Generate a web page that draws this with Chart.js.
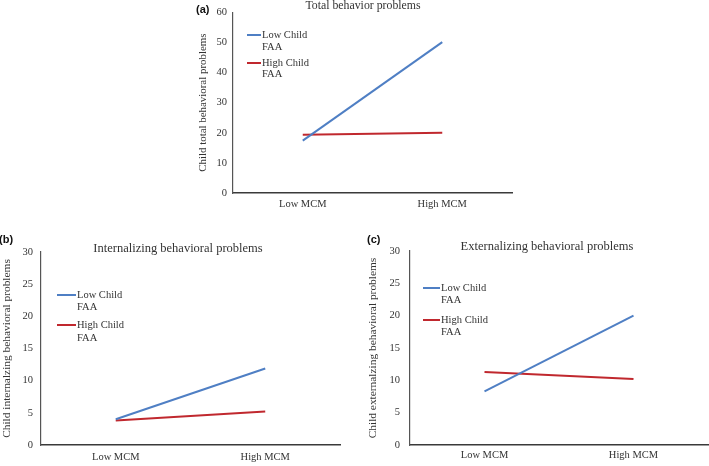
<!DOCTYPE html>
<html>
<head>
<meta charset="utf-8">
<script src="https://cdn.jsdelivr.net/npm/chart.js@4.4.1/dist/chart.umd.min.js"></script>
<style>
  html, body { margin: 0; padding: 0; background: #fff; }
  body { width: 709px; height: 466px; position: relative; overflow: hidden; }
  .panel { position: absolute; }
</style>
</head>
<body>
<div class="panel" style="left:190px;top:0px;width:330px;height:215px"><canvas id="cA"></canvas></div>
<div class="panel" style="left:0px;top:225px;width:345px;height:241px"><canvas id="cB"></canvas></div>
<div class="panel" style="left:362px;top:225px;width:347px;height:241px"><canvas id="cC"></canvas></div>
<script>
// ---- data ----
const categories = ['Low MCM', 'High MCM'];
const seriesLabels = [['Low Child', 'FAA'], ['High Child', 'FAA']];
const seriesColors = ['#4f7fc4', '#c0282e'];

const totalLowFAA = [17.4, 50.1];
const totalHighFAA = [19.3, 20.0];
const totalTicks = [0, 10, 20, 30, 40, 50, 60];

const intLowFAA = [4.0, 11.9];
const intHighFAA = [3.8, 5.2];
const intTicks = [0, 5, 10, 15, 20, 25, 30];

const extLowFAA = [8.3, 20.0];
const extHighFAA = [11.3, 10.2];
const extTicks = [0, 5, 10, 15, 20, 25, 30];

const panelLetters = ['(a)', '(b)', '(c)'];
const panelTitles = ['Total behavior problems', 'Internalizing behavioral problems', 'Externalizing behavioral problems'];
const yTitles = ['Child total behavioral problems', 'Child internalzing behavioral problems', 'Child externalzing behavioral problems'];

// ---- rendering ----
const SERIF = '"Liberation Serif", "Times New Roman", serif';
const SANS = '"Liberation Sans", Arial, sans-serif';

const decorPlugin = {
  id: 'decor',
  afterDraw(chart, args, o) {
    const ctx = chart.ctx;
    ctx.save();
    // panel letter
    ctx.fillStyle = '#111';
    ctx.font = 'bold 11px ' + SANS;
    ctx.textAlign = 'left';
    ctx.textBaseline = 'middle';
    ctx.fillText(o.letter, o.letterX, o.letterY);
    // title
    ctx.fillStyle = '#333';
    ctx.font = o.titleSize + 'px ' + SERIF;
    ctx.textAlign = 'center';
    ctx.fillText(o.title, o.titleX, o.titleY);
    // legend
    ctx.font = '10.5px ' + SERIF;
    ctx.textAlign = 'left';
    chart.data.datasets.forEach((ds, i) => {
      const y0 = o.legRows[i * 2];
      ctx.strokeStyle = ds.borderColor;
      ctx.lineWidth = 2;
      ctx.beginPath();
      ctx.moveTo(o.legX0, y0);
      ctx.lineTo(o.legX1, y0);
      ctx.stroke();
      ctx.fillStyle = '#333';
      ds.label.forEach((line, j) => {
        ctx.fillText(line, o.legX1 + 1, o.legRows[i * 2 + j]);
      });
    });
    ctx.restore();
  }
};

function makeChart(id, lowData, highData, ticks, cfg) {
  const ymax = ticks[ticks.length - 1];
  return new Chart(document.getElementById(id), {
    type: 'line',
    data: {
      labels: categories,
      datasets: [
        { label: seriesLabels[0], data: lowData, borderColor: seriesColors[0], backgroundColor: seriesColors[0], borderWidth: 2, pointRadius: 0, tension: 0 },
        { label: seriesLabels[1], data: highData, borderColor: seriesColors[1], backgroundColor: seriesColors[1], borderWidth: 2, pointRadius: 0, tension: 0 }
      ]
    },
    options: {
      responsive: true,
      maintainAspectRatio: false,
      animation: false,
      layout: { padding: { top: cfg.padTop, right: cfg.padRight, left: 0, bottom: 0 } },
      plugins: {
        legend: { display: false },
        title: { display: false },
        tooltip: { enabled: false },
        decor: cfg.decor
      },
      scales: {
        x: {
          type: 'category',
          offset: true,
          grid: { display: false, drawTicks: false },
          border: { display: true, color: '#3a3a3a', width: 1.5 },
          ticks: { color: '#333', font: { family: SERIF, size: 10.5 }, padding: cfg.xPad, maxRotation: 0 },
          afterFit(s) { s.height = cfg.xH; }
        },
        y: {
          min: 0, max: ymax,
          afterBuildTicks(s) { s.ticks = ticks.map(v => ({ value: v })); },
          grid: { display: false, drawTicks: false },
          border: { display: true, color: '#555', width: 1.2 },
          ticks: { color: '#333', font: { family: SERIF, size: 10.5 }, padding: cfg.yPad },
          title: { display: true, text: cfg.yTitle, color: '#333', font: { family: SERIF, size: cfg.yTitleSize }, padding: { top: cfg.yTitlePad, bottom: 0 } },
          afterFit(s) { s.width = cfg.yW; }
        }
      }
    },
    plugins: [decorPlugin]
  });
}

makeChart('cA', totalLowFAA, totalHighFAA, totalTicks, {
  padTop: 8, padRight: 8, xH: 22, yW: 43, xPad: 5, yPad: 6, yTitlePad: 7, yTitleSize: 10.9, yTitle: yTitles[0],
  decor: { letter: panelLetters[0], letterX: 6, letterY: 10, title: panelTitles[0], titleSize: 11.8, titleX: 173, titleY: 6,
           legX0: 57, legX1: 71, legRows: [35, 47, 63, 74] }
});
makeChart('cB', intLowFAA, intHighFAA, intTicks, {
  padTop: 27, padRight: 5, xH: 21, yW: 41, xPad: 6, yPad: 8, yTitlePad: 0, yTitleSize: 11.4, yTitle: yTitles[1],
  decor: { letter: panelLetters[1], letterX: -1, letterY: 15, title: panelTitles[1], titleSize: 12.5, titleX: 178, titleY: 24,
           legX0: 57, legX1: 76, legRows: [70, 82, 100, 113] }
});
makeChart('cC', extLowFAA, extHighFAA, extTicks, {
  padTop: 26, padRight: 1, xH: 21, yW: 48, xPad: 4, yPad: 10, yTitlePad: 4, yTitleSize: 11.4, yTitle: yTitles[2],
  decor: { letter: panelLetters[2], letterX: 5, letterY: 15, title: panelTitles[2], titleSize: 12.5, titleX: 185, titleY: 22,
           legX0: 61, legX1: 78, legRows: [63, 75, 95, 107] }
});
</script>
</body>
</html>
